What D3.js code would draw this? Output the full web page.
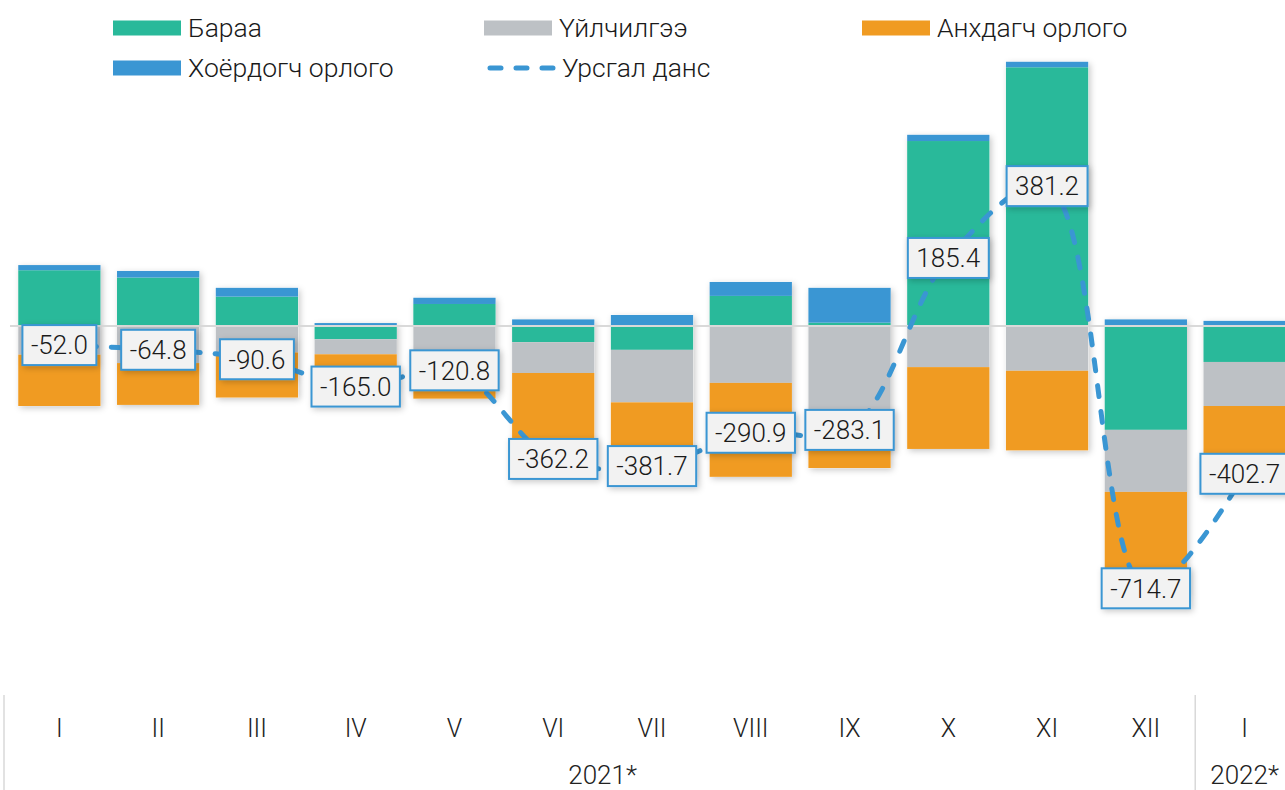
<!DOCTYPE html>
<html>
<head>
<meta charset="utf-8">
<script src="https://cdn.jsdelivr.net/npm/d3@7"></script>
<style>
  body { margin: 0; background: #fff; }
  svg { display: block; font-family: Roboto, "Noto Sans", sans-serif; font-weight: 300; }
</style>
</head>
<body>
<svg id="chart" width="1285" height="790"></svg>
<script>
// months (index based, "I" appears twice)
const categories = ['I', 'II', 'III', 'IV', 'V', 'VI', 'VII', 'VIII', 'IX', 'X', 'XI', 'XII', 'I']
const years = [
  { label: '2021*', from: 0, to: 11 },
  { label: '2022*', from: 12, to: 12 },
]

// components of the current account, mln USD
const goods = [152, 132, 80, -36, 60, -44, -65, 82, 9, 504, 705, -283, -98]
const services = [-78, -101, -72, -41, -88, -84, -143, -155, -280, -112, -122, -169, -120]
const primaryIncome = [-140, -114, -123, -96, -110, -252, -204, -256, -107, -223, -217, -281, -199]
const secondaryIncome = [14, 18, 24, 8, 17, 18, 30, 38, 95, 17, 15, 18, 14]
const currentAccount = [-52.0, -64.8, -90.6, -165.0, -120.8, -362.2, -381.7, -290.9, -283.1, 185.4, 381.2, -714.7, -402.7]

const seriesNames = {
  goods: 'Бараа',
  services: 'Үйлчилгээ',
  primary: 'Анхдагч орлого',
  secondary: 'Хоёрдогч орлого',
  line: 'Урсгал данс',
}

const colors = {
  goods: '#29b99a',
  services: '#bdc1c5',
  primary: '#f09b22',
  secondary: '#3a96d3',
}

const svg = d3.select('#chart')

/**
 * soft shadow used by the bars and the value boxes
 */
const defs = svg.append('defs')
defs.append('filter')
    .attr('id', 'shadow')
    .attr('x', '-20%').attr('y', '-20%')
    .attr('width', '150%').attr('height', '150%')
  .append('feDropShadow')
    .attr('dx', 2).attr('dy', 2)
    .attr('stdDeviation', 3)
    .attr('flood-color', '#000')
    .attr('flood-opacity', 0.22)

const x = d3.scaleBand()
    .domain(d3.range(categories.length))
    .range([10, 1294])
    .paddingInner(0.167)
    .paddingOuter(0.0835)

const y = d3.scaleLinear()
    .domain([-800, 800])
    .range([326 + 293.6, 326 - 293.6])

/**
 * Stacked bars, positives going up and negatives going down
 */
const rows = categories.map((c, i) => ({
  goods: goods[i],
  services: services[i],
  primary: primaryIncome[i],
  secondary: secondaryIncome[i],
}))

const stacked = d3.stack()
    .keys(['goods', 'services', 'primary', 'secondary'])
    .offset(d3.stackOffsetDiverging)
    (rows)

const posSum = d => d3.sum(Object.values(d).filter(v => v > 0))
const negSum = d => d3.sum(Object.values(d).filter(v => v < 0))

// shadow layer for whole bars
svg.append('g')
    .selectAll('rect')
    .data(rows)
    .join('rect')
    .attr('x', (d, i) => x(i))
    .attr('width', x.bandwidth())
    .attr('y', d => y(posSum(d)))
    .attr('height', d => y(negSum(d)) - y(posSum(d)))
    .attr('fill', '#fff')
    .attr('filter', 'url(#shadow)')

svg.append('g')
    .selectAll('g')
    .data(stacked)
    .join('g')
    .attr('fill', d => colors[d.key])
    .selectAll('rect')
    .data(d => d)
    .join('rect')
    .attr('x', (d, i) => x(i))
    .attr('width', x.bandwidth())
    .attr('y', d => y(Math.max(d[0], d[1])))
    .attr('height', d => Math.abs(y(d[0]) - y(d[1])))

// zero line
svg.append('line')
    .attr('x1', 10).attr('x2', 1285)
    .attr('y1', y(0)).attr('y2', y(0))
    .attr('stroke', '#d9d9d9')
    .attr('stroke-width', 2)

/**
 * Current account line
 */
const lineGen = d3.line()
    .x((d, i) => x(i) + x.bandwidth() / 2)
    .y(d => y(d))
    .curve(d3.curveCatmullRom.alpha(0.5))

svg.append('path')
    .datum(currentAccount)
    .attr('d', lineGen)
    .attr('fill', 'none')
    .attr('stroke', colors.secondary)
    .attr('stroke-width', 5)
    .attr('stroke-linecap', 'round')
    .attr('stroke-dasharray', '11 15')

// value boxes
const labels = svg.append('g')
    .selectAll('g')
    .data(currentAccount)
    .join('g')
    .attr('transform', (d, i) => `translate(${x(i) + x.bandwidth() / 2},${y(d)})`)

labels.append('rect')
    .attr('fill', '#f2f2f2')
    .attr('stroke', colors.secondary)
    .attr('stroke-width', 2)
    .attr('filter', 'url(#shadow)')

labels.append('text')
    .attr('text-anchor', 'middle')
    .attr('dy', '0.36em')
    .attr('font-size', 26)
    .attr('fill', '#1a1a1a')
    .text(d => d.toFixed(1))

labels.each(function() {
  const g = d3.select(this)
  const w = g.select('text').node().getComputedTextLength() + 17
  g.select('rect')
      .attr('x', -w / 2).attr('y', -20)
      .attr('width', w).attr('height', 40)
})

/**
 * Category axis
 */
const axis = svg.append('g')

axis.selectAll('text.month')
    .data(categories)
    .join('text')
    .attr('class', 'month')
    .attr('x', (d, i) => x(i) + x.bandwidth() / 2)
    .attr('y', 728)
    .attr('dy', '0.35em')
    .attr('text-anchor', 'middle')
    .attr('font-size', 25)
    .attr('fill', '#222')
    .text(d => d)

axis.selectAll('text.year')
    .data(years)
    .join('text')
    .attr('class', 'year')
    .attr('x', d => (x(d.from) - x.step() * x.paddingInner() / 2 + x(d.to) + x.bandwidth() + x.step() * x.paddingInner() / 2) / 2)
    .attr('y', 775)
    .attr('dy', '0.35em')
    .attr('text-anchor', 'middle')
    .attr('font-size', 26)
    .attr('fill', '#222')
    .text(d => d.label)

const separators = [x(0) - x.step() * x.paddingInner() / 2 - 6, x(12) - x.step() * x.paddingInner() / 2]
axis.selectAll('line')
    .data(separators)
    .join('line')
    .attr('x1', d => d).attr('x2', d => d)
    .attr('y1', 695).attr('y2', 790)
    .attr('stroke', '#d9d9d9')
    .attr('stroke-width', 1.5)

/**
 * Legend
 */
const legendItems = [
  { key: 'goods', x: 113, y: 28 },
  { key: 'services', x: 484, y: 28 },
  { key: 'primary', x: 862, y: 28 },
  { key: 'secondary', x: 113, y: 68 },
  { key: 'line', x: 487, y: 68 },
]

const legend = svg.append('g')
    .selectAll('g')
    .data(legendItems)
    .join('g')
    .attr('transform', d => `translate(${d.x},${d.y})`)

legend.filter(d => d.key !== 'line')
    .append('rect')
    .attr('y', -7.5)
    .attr('width', 68)
    .attr('height', 15)
    .attr('fill', d => colors[d.key])

legend.filter(d => d.key === 'line')
    .append('line')
    .attr('x1', 3).attr('x2', 66)
    .attr('stroke', colors.secondary)
    .attr('stroke-width', 5)
    .attr('stroke-linecap', 'round')
    .attr('stroke-dasharray', '11 15')

legend.append('text')
    .attr('x', 75)
    .attr('dy', '0.35em')
    .attr('font-size', 26.5)
    .attr('fill', '#1a1a1a')
    .text(d => seriesNames[d.key])
</script>
</body>
</html>
